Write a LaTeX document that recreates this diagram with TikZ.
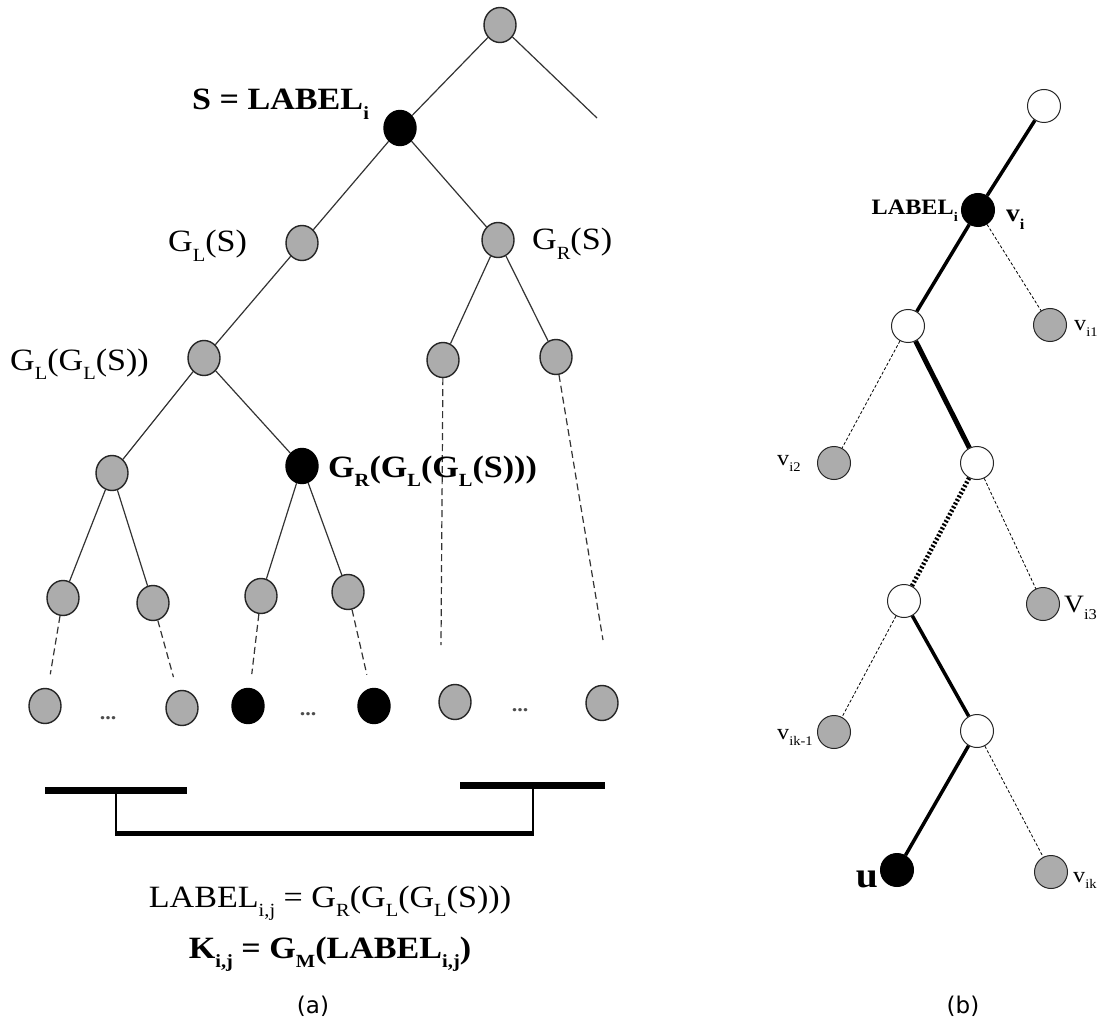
\documentclass[tikz,border=0pt]{standalone}
\usepackage{fontspec}
\setmainfont[FakeStretch=1.1]{Liberation Serif}
\newfontfamily\capfont{DejaVu Sans}
\usetikzlibrary{shapes.geometric}
\definecolor{nodegray}{RGB}{172,172,172}
\newcommand\lo[1]{\raisebox{-0.3em}{\scalebox{0.6}{#1}}}

\begin{document}
\begin{tikzpicture}[x=1pt,y=-1pt,
  vtx/.style={ellipse, draw=black!85, line width=1.4pt, minimum width=32pt, minimum height=35pt, inner sep=0pt},
  gvtx/.style={vtx, fill=nodegray},
  bvtx/.style={vtx, fill=black, draw=black},
  tedge/.style={draw=black!80, line width=1.2pt},
  dedge/.style={tedge, dash pattern=on 7pt off 4pt},
  rnode/.style={circle, draw=black!85, line width=1pt, minimum size=33pt, inner sep=0pt},
  wnode/.style={rnode, fill=white},
  rgnode/.style={rnode, fill=nodegray},
  rbnode/.style={rnode, fill=black, draw=black},
  thindash/.style={draw=black, line width=0.8pt, dash pattern=on 3pt off 2pt},
  heavy/.style={draw=black, line width=3.5pt},
  heavier/.style={draw=black, line width=5pt},
  dotheavy/.style={draw=black, line width=4.5pt, dash pattern=on 2pt off 2pt},
  biglab/.style={font=\fontsize{31}{36}\selectfont, inner sep=0pt},
  midlab/.style={font=\fontsize{22}{26}\selectfont, inner sep=0pt},
  bar/.style={draw=black, line width=7pt},
  caption/.style={font=\capfont\fontsize{23}{27}\selectfont, inner sep=0pt}
]
\useasboundingbox[fill=white] (0,0) rectangle (1108,1024);

% ---------- (a) key tree ----------
\node[gvtx] (root) at (500,25) {};
\coordinate (rootR) at (597,118);
\node[bvtx] (s) at (400,128) {};
\node[gvtx] (gl) at (302,243) {};
\node[gvtx] (gr) at (498,240) {};
\node[gvtx] (gll) at (204,358) {};
\node[gvtx] (grl) at (443,360) {};
\node[gvtx] (grr) at (556,357) {};
\node[gvtx] (glll) at (112,473) {};
\node[bvtx] (tgt) at (302,466) {};
\node[gvtx] (la) at (63,598) {};
\node[gvtx] (lb) at (153,603) {};
\node[gvtx] (lc) at (261,596) {};
\node[gvtx] (ld) at (348,592) {};
\node[gvtx] (ba) at (45,706) {};
\node[gvtx] (bb) at (182,708) {};
\node[bvtx] (bc) at (248,706) {};
\node[bvtx] (bd) at (374,706) {};
\node[gvtx] (be) at (455,702) {};
\node[gvtx] (bf) at (602,703) {};
\coordinate (grlEnd) at (441,645);
\coordinate (grrEnd) at (603,640);

\draw[tedge] (root) -- (s);
\draw[tedge] (root) -- (rootR);
\draw[tedge] (s) -- (gl);
\draw[tedge] (s) -- (gr);
\draw[tedge] (gl) -- (gll);
\draw[tedge] (gr) -- (grl);
\draw[tedge] (gr) -- (grr);
\draw[tedge] (gll) -- (glll);
\draw[tedge] (gll) -- (tgt);
\draw[tedge] (glll) -- (la);
\draw[tedge] (glll) -- (lb);
\draw[tedge] (tgt) -- (lc);
\draw[tedge] (tgt) -- (ld);
\draw[dedge, shorten >=14pt] (la) -- (ba);
\draw[dedge, shorten >=14pt] (lb) -- (bb);
\draw[dedge, shorten >=14pt] (lc) -- (bc);
\draw[dedge, shorten >=14pt] (ld) -- (bd);
\draw[dedge] (grl) -- (grlEnd);
\draw[dedge] (grr) -- (grrEnd);

\node[font=\fontsize{20}{24}\selectfont, inner sep=0pt, text=black!70] (dotsA) at (108,718) {\textbf{...}};
\node[font=\fontsize{20}{24}\selectfont, inner sep=0pt, text=black!70] (dotsB) at (308,714) {\textbf{...}};
\node[font=\fontsize{20}{24}\selectfont, inner sep=0pt, text=black!70] (dotsC) at (520,710) {\textbf{...}};

\node[biglab, anchor=base west] (tS) at (192,110) {\textbf{S = LABEL\lo{i}}};
\node[biglab, anchor=base west] (tGL) at (168,252) {G\lo{L}(S)};
\node[biglab, anchor=base west] (tGR) at (532,250) {G\lo{R}(S)};
\node[biglab, anchor=base west] (tGLL) at (10,370) {G\lo{L}(G\lo{L}(S))};
\node[biglab, anchor=base west] (tTgt) at (328,477) {\textbf{G\lo{R}(G\lo{L}(G\lo{L}(S)))}};

% brackets joining the two leaf ranges
\coordinate (barL1) at (45,790);
\coordinate (barL2) at (187,790);
\coordinate (barR1) at (460,785);
\coordinate (barR2) at (605,785);
\coordinate (jL) at (116,790);
\coordinate (jR) at (533,785);
\coordinate (cL) at (116,833);
\coordinate (cR) at (533,833);
\draw[bar] (barL1) -- (barL2);
\draw[bar] (barR1) -- (barR2);
\draw[line width=2pt] (jL) -- (cL);
\draw[line width=2pt] (jR) -- (cR);
\draw[line width=5pt] ([xshift=-1pt]cL) -- ([xshift=1pt]cR);

\node[biglab, anchor=base] (f1) at (330,907) {LABEL\lo{i,j} = G\lo{R}(G\lo{L}(G\lo{L}(S)))};
\node[biglab, anchor=base] (f2) at (330,958) {\textbf{K\lo{i,j} = G\lo{M}(LABEL\lo{i,j})}};
\node[caption] (capA) at (313,1006) {(a)};

% ---------- (b) path tree ----------
\node[wnode] (top) at (1044,106) {};
\node[rbnode] (vi) at (978,210) {};
\node[wnode] (w1) at (908,326) {};
\node[rgnode] (vi1) at (1050,325) {};
\node[rgnode] (vi2) at (834,463) {};
\node[wnode] (w2) at (977,463) {};
\node[wnode] (w3) at (904,601) {};
\node[rgnode] (vi3) at (1043,604) {};
\node[rgnode] (vik1) at (834,732) {};
\node[wnode] (w4) at (977,731) {};
\node[rbnode] (u) at (897,870) {};
\node[rgnode] (vik) at (1051,872) {};

\draw[heavy] (top) -- (vi);
\draw[heavy] (vi) -- (w1);
\draw[thindash] (vi) -- (vi1);
\draw[thindash] (w1) -- (vi2);
\draw[heavier] (w1) -- (w2);
\draw[dotheavy] (w2) -- (w3);
\draw[thindash] (w2) -- (vi3);
\draw[thindash] (w3) -- (vik1);
\draw[heavy] (w3) -- (w4);
\draw[heavy] (w4) -- (u);
\draw[thindash] (w4) -- (vik);

\node[midlab, anchor=base east] (tLab) at (958,215) {\textbf{LABEL\lo{i}}};
\node[font=\fontsize{25}{30}\selectfont, inner sep=0pt, anchor=base west] (tVi) at (1006,222) {\textbf{v\lo{i}}};
\node[midlab, anchor=base west] (tVi1) at (1074,330) {v\lo{i1}};
\node[midlab, anchor=base west] (tVi2) at (777,465) {v\lo{i2}};
\node[font=\fontsize{25}{30}\selectfont, inner sep=0pt, anchor=base west] (tVi3) at (1064,612) {V\lo{i3}};
\node[midlab, anchor=base west] (tVik1) at (777,739) {v\lo{ik-1}};
\node[font=\fontsize{36}{40}\selectfont, inner sep=0pt, anchor=base east] (tU) at (878,887) {\textbf{u}};
\node[midlab, anchor=base west] (tVik) at (1073,882) {v\lo{ik}};
\node[caption] (capB) at (963,1006) {(b)};
\end{tikzpicture}
\end{document}
